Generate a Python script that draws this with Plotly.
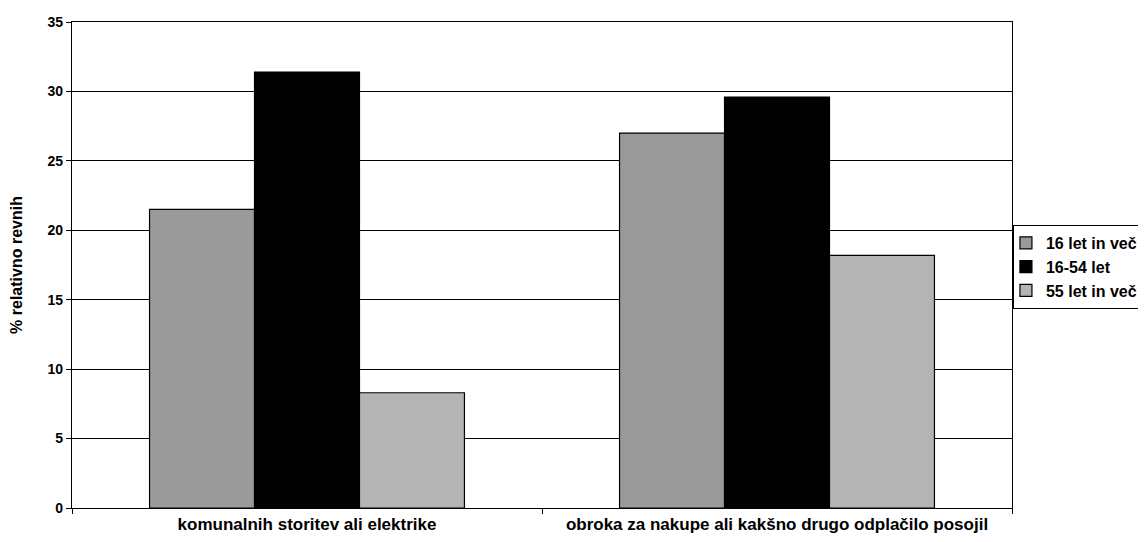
import plotly.graph_objects as go

categories = ["komunalnih storitev ali elektrike", "obroka za nakupe ali kakšno drugo odplačilo posojil"]
series_names = ["16 let in več", "16-54 let", "55 let in več"]
v_all = [21.5, 27.0]
v_young = [31.4, 29.6]
v_old = [8.3, 18.2]
y_ticks = [0, 5, 10, 15, 20, 25, 30, 35]

colors = ["#9a9a9a", "#000000", "#b4b4b4"]
values = [v_all, v_young, v_old]

fig = go.Figure()
for name, vals, col in zip(series_names, values, colors):
    fig.add_trace(go.Bar(
        x=categories, y=vals, name=name,
        marker=dict(color=col, line=dict(color="#000000", width=1.2)),
    ))

font = dict(family="Liberation Sans, Arial, sans-serif", color="#000000")
fig.update_layout(
    width=1146, height=542,
    margin=dict(l=64, r=142, t=14, b=42, autoexpand=False),
    paper_bgcolor="#ffffff", plot_bgcolor="#ffffff",
    barmode="group", bargap=0.33, bargroupgap=0,
    font=font,
    showlegend=True,
    legend=dict(
        x=1.001, xanchor="left", y=0.496, yanchor="middle",
        bordercolor="#000000", borderwidth=1,
        font=dict(family="Liberation Sans, Arial, sans-serif", size=16, color="#000000", weight="bold"),
        itemwidth=30, tracegroupgap=0, indentation=-8,
    ),
    xaxis=dict(
        showline=True, linecolor="#000000", linewidth=1.2, mirror=True,
        ticks="outside", ticklen=5, tickcolor="#000000", tickson="boundaries",
        tickfont=dict(size=17, weight="bold"),
        showgrid=False, automargin=False,
    ),
    yaxis=dict(
        range=[0, 35], tickvals=y_ticks,
        showline=True, linecolor="#000000", linewidth=1.2, mirror=True,
        ticks="outside", ticklen=5, tickcolor="#000000",
        showgrid=True, gridcolor="#000000", gridwidth=1,
        tickfont=dict(size=14, weight="bold"),
        title=dict(text="% relativno revnih", font=dict(size=16, weight="bold"), standoff=20),
        zeroline=False, automargin=False,
    ),
)

fig.write_html("out.html")
